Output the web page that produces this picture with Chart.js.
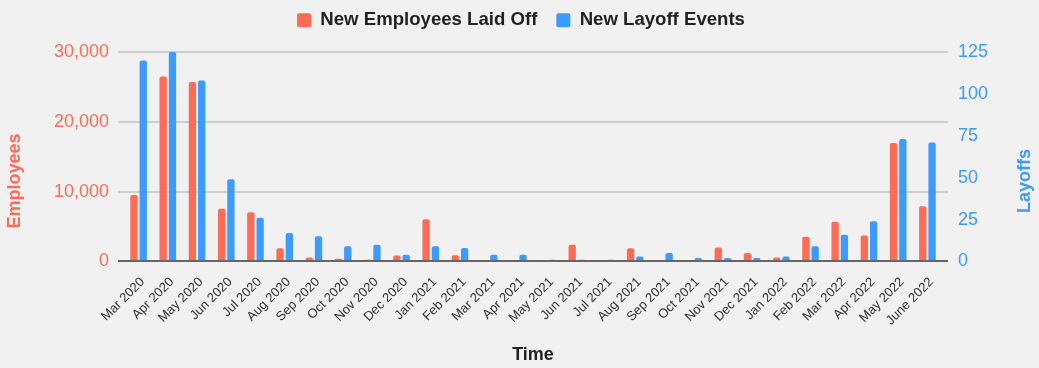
<!DOCTYPE html>
<html><head><meta charset="utf-8">
<script src="https://cdn.jsdelivr.net/npm/chart.js@4"></script>
<style>html,body{margin:0;padding:0;background:#f1f1f1;overflow:hidden}#wrap{width:1039px;height:368px;position:relative}</style>
</head><body><div id="wrap"><canvas id="c"></canvas></div>
<script>
const categories = ["Mar 2020","Apr 2020","May 2020","Jun 2020","Jul 2020","Aug 2020","Sep 2020","Oct 2020","Nov 2020","Dec 2020","Jan 2021","Feb 2021","Mar 2021","Apr 2021","May 2021","Jun 2021","Jul 2021","Aug 2021","Sep 2021","Oct 2021","Nov 2021","Dec 2021","Jan 2022","Feb 2022","Mar 2022","Apr 2022","May 2022","June 2022"];
const employeesLaidOff = [9500,26500,25700,7550,7050,1900,550,380,250,850,6050,900,0,200,0,2400,0,1900,200,0,2000,1200,570,3550,5700,3700,16950,7900];
const layoffEvents = [120,125,108,49,26,17,15,9,10,4,9,8,4,4,1,1,1,3,5,2,2,2,3,9,16,24,73,71];
const employeeAxisMax = 30000, employeeStep = 10000;
const layoffAxisMax = 125, layoffStep = 25;

const RED = '#ff6b55', BLUE = '#3d9afe';
Chart.defaults.font.family = '"Liberation Sans", Arial, Helvetica, sans-serif';

const decor = {
  id: 'decor',
  afterInit(chart){
    const lg = chart.legend;
    const fit = lg.fit, draw = lg.draw;
    lg.fit = function(){ fit.call(this); this.height = 52; };
    lg.draw = function(){ const c = this.ctx; c.save(); c.translate(0, -8); draw.call(this); c.restore(); };
  },
  beforeDraw(chart){
    const {ctx,width,height} = chart;
    ctx.save(); ctx.fillStyle = '#f1f1f1'; ctx.fillRect(0,0,width,height); ctx.restore();
  },
  beforeDatasetsDraw(chart){
    const y = chart.scales.y, a = chart.chartArea, ctx = chart.ctx;
    ctx.save(); ctx.lineWidth = 2; ctx.strokeStyle = '#cdcdcd';
    y.ticks.forEach(t => {
      if (t.value === 0) return;
      const py = Math.round(y.getPixelForValue(t.value));
      ctx.beginPath(); ctx.moveTo(a.left-6, py); ctx.lineTo(a.right+6, py); ctx.stroke();
    });
    ctx.restore();
  },
  afterDatasetsDraw(chart){
    const y = chart.scales.y, a = chart.chartArea, ctx = chart.ctx;
    ctx.save(); ctx.lineWidth = 2; ctx.strokeStyle = '#666666';
    const py = Math.round(y.getPixelForValue(0));
    ctx.beginPath(); ctx.moveTo(a.left-6, py); ctx.lineTo(a.right+6, py); ctx.stroke();
    ctx.font = 'bold 18px "Liberation Sans", Arial, sans-serif';
    ctx.textAlign = 'center'; ctx.textBaseline = 'alphabetic';
    ctx.fillStyle = RED;
    ctx.translate(20, 181); ctx.rotate(-Math.PI/2); ctx.fillText('Employees', 0, 0);
    ctx.setTransform(1,0,0,1,0,0);
    ctx.fillStyle = BLUE;
    ctx.translate(1030, 181); ctx.rotate(-Math.PI/2); ctx.fillText('Layoffs', 0, 0);
    ctx.restore();
  }
};

new Chart(document.getElementById('c'), {
  type: 'bar',
  data: {
    labels: categories,
    datasets: [
      { label: 'New Employees Laid Off', data: employeesLaidOff, backgroundColor: RED, yAxisID: 'y',
        borderRadius: 2, borderSkipped: 'start', categoryPercentage: 0.637, barPercentage: 0.785 },
      { label: 'New Layoff Events', data: layoffEvents, backgroundColor: BLUE, yAxisID: 'y1',
        borderRadius: 2, borderSkipped: 'start', categoryPercentage: 0.637, barPercentage: 0.785 }
    ]
  },
  options: {
    responsive: true, maintainAspectRatio: false, devicePixelRatio: 1, animation: false,
    layout: { padding: { left: 54, right: 51, top: 0, bottom: 2 } },
    plugins: {
      legend: { position: 'top', labels: { boxWidth: 14, boxHeight: 14, color: '#222', padding: 19,
        useBorderRadius: true, borderRadius: 2, font: { size: 18.6, weight: 'bold' } } },
      tooltip: { enabled: false }
    },
    scales: {
      x: { offset: true, grid: { display: false }, border: { display: false },
        afterFit(scale){ scale.paddingLeft = 0; scale.paddingRight = 0; },
        ticks: { minRotation: 45, maxRotation: 45, autoSkip: false, color: '#333', font: { size: 13 }, padding: 5, labelOffset: 4 },
        title: { display: true, text: 'Time', color: '#222', font: { size: 18, weight: 'bold' }, padding: { top: 11, bottom: 0 } } },
      y: { position: 'left', min: 0, max: employeeAxisMax, grid: { display: false, drawTicks: false }, border: { display: false },
        afterFit(scale){ scale.width = 70; },
        ticks: { stepSize: employeeStep, color: RED, font: { size: 18 }, padding: 15 } },
      y1: { position: 'right', min: 0, max: layoffAxisMax, grid: { display: false, drawTicks: false }, border: { display: false },
        afterFit(scale){ scale.width = 46; },
        ticks: { stepSize: layoffStep, color: BLUE, font: { size: 18 }, padding: 16 } }
    }
  },
  plugins: [decor]
});
</script>
</body></html>
